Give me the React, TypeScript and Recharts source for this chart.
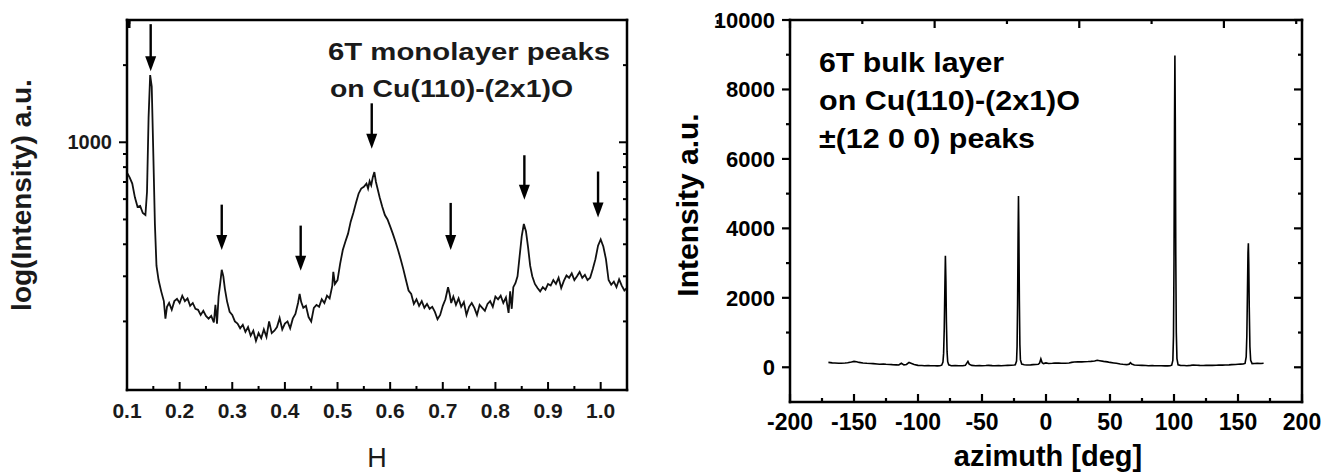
import React from 'react';
import { LineChart, Line, XAxis, YAxis, ReferenceLine } from 'recharts';

// left panel: 6T monolayer H scan (log intensity)
const hValues = [
  0.1, 0.105, 0.11, 0.115, 0.12, 0.125, 0.13, 0.135, 0.138, 0.141, 0.144, 0.147, 0.15, 0.153, 0.156, 0.16,
  0.165, 0.17, 0.173, 0.176, 0.18, 0.185, 0.19, 0.195, 0.2, 0.205, 0.21, 0.215, 0.22, 0.225, 0.23, 0.235,
  0.24, 0.245, 0.25, 0.255, 0.26, 0.265, 0.268, 0.271, 0.274, 0.277, 0.28, 0.283, 0.286, 0.29, 0.295, 0.3,
  0.305, 0.31, 0.315, 0.32, 0.325, 0.33, 0.335, 0.34, 0.345, 0.35, 0.355, 0.36, 0.365, 0.37, 0.375, 0.38,
  0.385, 0.39, 0.395, 0.4, 0.405, 0.41, 0.415, 0.42, 0.425, 0.428, 0.431, 0.435, 0.44, 0.445, 0.45, 0.455,
  0.46, 0.465, 0.47, 0.475, 0.48, 0.485, 0.49, 0.492, 0.495, 0.5, 0.505, 0.51, 0.515, 0.52, 0.525, 0.53,
  0.535, 0.54, 0.545, 0.55, 0.555, 0.558, 0.561, 0.564, 0.567, 0.57, 0.573, 0.576, 0.58, 0.585, 0.59, 0.595,
  0.6, 0.605, 0.61, 0.615, 0.62, 0.625, 0.63, 0.635, 0.64, 0.645, 0.65, 0.655, 0.66, 0.665, 0.67, 0.675,
  0.68, 0.685, 0.69, 0.695, 0.7, 0.705, 0.71, 0.713, 0.716, 0.72, 0.725, 0.73, 0.735, 0.74, 0.745, 0.75,
  0.755, 0.76, 0.765, 0.77, 0.775, 0.78, 0.785, 0.79, 0.795, 0.8, 0.805, 0.81, 0.815, 0.82, 0.825, 0.828,
  0.831, 0.834, 0.838, 0.842, 0.846, 0.85, 0.854, 0.858, 0.862, 0.866, 0.87, 0.875, 0.88, 0.885, 0.89, 0.895,
  0.9, 0.905, 0.91, 0.915, 0.92, 0.925, 0.93, 0.935, 0.94, 0.945, 0.95, 0.955, 0.96, 0.965, 0.97, 0.975,
  0.98, 0.985, 0.99, 0.995, 1.0, 1.005, 1.01, 1.015, 1.02, 1.025, 1.03, 1.035, 1.04, 1.045, 1.05,
];
const hCounts = [
  760, 730, 690, 610, 560, 565, 530, 520, 640, 1250, 1830, 1650, 900, 480, 330, 290,
  262, 240, 205, 228, 236, 222, 240, 245, 236, 252, 240, 246, 230, 236, 224, 222,
  212, 220, 210, 205, 210, 198, 232, 196, 250, 280, 318, 300, 268, 240, 218, 212,
  200, 196, 188, 194, 182, 190, 176, 184, 168, 180, 172, 186, 174, 200, 180, 184,
  190, 206, 186, 196, 200, 188, 205, 214, 236, 256, 238, 226, 230, 208, 200, 226,
  232, 228, 244, 236, 252, 246, 275, 312, 280, 290, 336, 380, 410, 440, 490, 530,
  580, 630, 660, 670, 690, 660, 705, 680, 730, 765, 700, 660, 610, 560, 520, 500,
  470, 440, 410, 380, 350, 320, 290, 264, 256, 234, 244, 230, 240, 226, 234, 224,
  228, 218, 204, 212, 230, 244, 272, 256, 236, 250, 232, 246, 228, 238, 212, 228,
  236, 226, 212, 232, 226, 220, 234, 240, 228, 250, 244, 252, 236, 248, 216, 262,
  224, 272, 282, 300, 360, 430, 480, 450, 390, 330, 300, 280, 270, 262, 272, 266,
  280, 276, 290, 280, 296, 270, 288, 302, 296, 308, 290, 300, 312, 296, 304, 290,
  296, 320, 350, 395, 418, 392, 350, 290, 278, 286, 272, 292, 276, 264, 270,
];
const hTicks = [0.1, 0.15, 0.2, 0.25, 0.3, 0.35, 0.4, 0.45, 0.5, 0.55, 0.6, 0.65, 0.7, 0.75, 0.8, 0.85, 0.9, 0.95, 1.0];
const logTicks = [200, 300, 400, 500, 600, 700, 800, 900, 1000, 2000];
const logLabels = [1000];

// peak markers (arrows) on the monolayer scan
const arrowH = [0.145, 0.28, 0.43, 0.565, 0.715, 0.855, 0.995];
const arrowTop = [2890, 571, 473, 1419, 580, 890, 769];
const arrowTip = [1893, 380, 315, 943, 380, 597, 509];

// right panel: 6T bulk layer azimuth scan
const azimuth = [
  -170, -167, -165, -162, -160, -157, -155, -152, -150, -148, -146, -143, -140, -137, -135, -132,
  -130, -127, -125, -122, -120, -117, -115, -113, -111, -109, -107, -105, -103, -100, -97, -95,
  -92, -90, -87, -85, -83, -81.5, -80.5, -80, -79.5, -79, -78.6, -78.2, -77.8, -77.3, -76.8, -76,
  -74, -71, -68, -65, -63, -61, -60, -58, -55, -52, -50, -47, -45, -42, -40, -37,
  -35, -32, -30, -27, -25, -24, -23, -22.6, -22.2, -21.8, -21.5, -21.2, -20.8, -20.4, -20, -19,
  -17, -15, -12, -10, -8, -6, -5, -4, -3, -2, 0, 2, 5, 7, 10, 12,
  15, 18, 20, 22, 25, 28, 30, 33, 35, 38, 40, 42, 45, 48, 50, 53,
  55, 58, 60, 63, 65, 66, 67, 69, 72, 75, 78, 80, 83, 85, 88, 90,
  93, 95, 97, 98.2, 99.1, 99.6, 100, 100.4, 100.7, 101, 101.4, 101.8, 102.3, 103.2, 105, 108,
  110, 113, 115, 118, 120, 123, 125, 128, 130, 133, 135, 138, 140, 143, 145, 148,
  150, 152, 154, 155.5, 156.4, 156.9, 157.4, 157.8, 158.1, 158.4, 158.8, 159.3, 159.9, 161, 163, 165,
  168, 170,
];
const azIntensity = [
  140, 128, 125, 118, 115, 122, 130, 150, 170, 160, 140, 125, 115, 110, 105, 95,
  85, 90, 85, 80, 75, 70, 65, 115, 70, 80, 140, 110, 80, 55, 50, 45,
  48, 45, 42, 40, 45, 60, 150, 400, 1100, 2300, 3210, 2500, 1300, 450, 160, 70,
  45, 48, 42, 45, 55, 170, 90, 55, 45, 48, 45, 50, 55, 48, 45, 50,
  45, 52, 55, 60, 65, 70, 180, 600, 1800, 3800, 4930, 3900, 1900, 650, 220, 90,
  75, 65, 70, 75, 80, 85, 120, 240, 130, 105, 125, 110, 115, 120, 125, 118,
  115, 125, 140, 150, 160, 155, 160, 165, 170, 180, 200, 190, 170, 155, 140, 125,
  115, 95, 85, 75, 90, 130, 95, 65, 60, 55, 50, 45, 48, 45, 42, 45,
  40, 40, 45, 60, 200, 900, 3000, 7000, 8980, 7200, 3200, 1000, 250, 70, 55, 50,
  45, 55, 65, 60, 55, 52, 55, 58, 55, 60, 65, 62, 65, 70, 75, 80,
  85, 90, 95, 110, 300, 900, 2200, 3300, 3570, 3000, 1700, 600, 200, 105, 110, 115,
  110, 115,
];
const azTicks = [-200, -175, -150, -125, -100, -75, -50, -25, 0, 25, 50, 75, 100, 125, 150, 175, 200];
const intensityTicks = [0, 1000, 2000, 3000, 4000, 5000, 6000, 7000, 8000, 9000, 10000];

const hData = hValues.map((h, i) => ({ h, c: hCounts[i] }));
const azData = azimuth.map((a, i) => ({ a, v: azIntensity[i] }));

const font = '"Liberation Sans", Arial, Helvetica, sans-serif';

type Side = 'bottom' | 'top' | 'left' | 'right';

// draws the tick mark itself (inside or outside) plus the optional label
const makeTick = (
  side: Side,
  isMajor: (v: number) => boolean,
  label: ((v: number) => string) | null,
  opts: { major: number; minor: number; size: number; color: string; offset: number; width: number }
) => (p: any) => {
  const v = p.payload.value;
  const big = isMajor(v);
  const len = big ? opts.major : opts.minor;
  const x = p.x;
  const y = p.y;
  let line = null;
  if (side === 'bottom') line = <line x1={x} x2={x} y1={y} y2={y - len} />;
  if (side === 'top') line = <line x1={x} x2={x} y1={y} y2={y + len} />;
  if (side === 'left') line = <line x1={x} x2={x - len} y1={y} y2={y} />;
  if (side === 'right') line = <line x1={x} x2={x - len} y1={y} y2={y} />;
  return (
    <g stroke="#000" strokeWidth={opts.width}>
      {line}
      {label && big && side === 'bottom' && (
        <text x={x} y={y + opts.offset} textAnchor="middle" stroke="none" fill={opts.color}
          fontFamily={font} fontWeight="bold" fontSize={opts.size}>{label(v)}</text>
      )}
      {label && big && side === 'left' && (
        <text x={x - opts.offset} y={y} dy="0.36em" textAnchor="end" stroke="none" fill={opts.color}
          fontFamily={font} fontWeight="bold" fontSize={opts.size}>{label(v)}</text>
      )}
    </g>
  );
};

const Arrow = (p: any) => {
  const x = p.x1;
  const top = Math.min(p.y1, p.y2);
  const tip = Math.max(p.y1, p.y2);
  const head = 15;
  return (
    <g>
      <line x1={x} x2={x} y1={top} y2={tip - head + 2} stroke="#000" strokeWidth={2.4} />
      <polygon points={`${x - 5.5},${tip - head} ${x + 5.5},${tip - head} ${x},${tip}`} fill="#000" />
    </g>
  );
};

const frame = { stroke: '#000', strokeWidth: 2.5, strokeLinecap: 'square' as const };

const isTenth = (v: number) => Math.round(v * 100) % 10 === 0;
const isLabeledLog = (v: number) => logLabels.includes(v);
const isFifty = (v: number) => v % 50 === 0;
const isTwoK = (v: number) => v % 2000 === 0;

const leftOpts = { major: 8, minor: 4, size: 21, color: '#1a1a1a', offset: 28, width: 2 };
const leftYOpts = { major: 8, minor: 4, size: 20, color: '#1a1a1a', offset: 15, width: 2 };
const rightOpts = { major: 8, minor: 4, size: 23, color: '#000', offset: 28, width: 2.2 };
const rightYOpts = { major: 8, minor: 4, size: 22, color: '#000', offset: 15, width: 2.2 };

const LeftPanel = () => (
  <LineChart width={660} height={473} data={hData} margin={{ top: 10, right: 23, bottom: 53, left: 67 }}>
    <XAxis xAxisId="b" dataKey="h" type="number" domain={[0.1, 1.05]} allowDataOverflow ticks={hTicks}
      interval={0} height={30} tickSize={0} tickMargin={0} tickLine={false} axisLine={frame}
      tick={makeTick('bottom', isTenth, (v) => v.toFixed(1), leftOpts)} />
    <XAxis xAxisId="t" orientation="top" type="number" domain={[0.1, 1.05]} allowDataOverflow ticks={hTicks}
      interval={0} height={10} tickSize={0} tickMargin={0} tickLine={false} axisLine={frame}
      tick={makeTick('top', isTenth, null, leftOpts)} />
    <YAxis yAxisId="l" scale="log" type="number" domain={[108, 3000]} allowDataOverflow ticks={logTicks}
      interval={0} width={60} tickSize={0} tickMargin={0} tickLine={false} axisLine={frame}
      tick={makeTick('left', isLabeledLog, (v) => String(v), leftYOpts)} />
    <YAxis yAxisId="r" orientation="right" scale="log" type="number" domain={[108, 3000]} allowDataOverflow
      ticks={logTicks} interval={0} width={10} tickSize={0} tickMargin={0} tickLine={false} axisLine={frame}
      tick={makeTick('right', isLabeledLog, null, leftYOpts)} />
    <Line xAxisId="b" yAxisId="l" dataKey="c" type="linear" stroke="#111" strokeWidth={1.8} dot={false}
      isAnimationActive={false} />
    {arrowH.map((h, i) => (
      <ReferenceLine key={h} xAxisId="b" yAxisId="l" ifOverflow="visible"
        segment={[{ x: h, y: arrowTop[i] }, { x: h, y: arrowTip[i] }]} shape={Arrow} />
    ))}
  </LineChart>
);

const RightPanel = () => (
  <LineChart width={661} height={473} data={azData} margin={{ top: 10, right: 9, bottom: 41, left: 70 }}>
    <XAxis xAxisId="b" dataKey="a" type="number" domain={[-200, 200]} allowDataOverflow ticks={azTicks}
      interval={0} height={30} tickSize={0} tickMargin={0} tickLine={false} axisLine={frame}
      tick={makeTick('bottom', isFifty, (v) => String(v), rightOpts)} />
    <XAxis xAxisId="t" orientation="top" type="number" domain={[-200, 200]} allowDataOverflow ticks={azTicks}
      interval={0} height={10} tickSize={0} tickMargin={0} tickLine={false} axisLine={frame}
      tick={makeTick('top', isFifty, null, rightOpts)} />
    <YAxis yAxisId="l" type="number" domain={[-1000, 10000]} allowDataOverflow ticks={intensityTicks}
      interval={0} width={60} tickSize={0} tickMargin={0} tickLine={false} axisLine={frame}
      tick={makeTick('left', isTwoK, (v) => String(v), rightYOpts)} />
    <YAxis yAxisId="r" orientation="right" type="number" domain={[-1000, 10000]} allowDataOverflow
      ticks={intensityTicks} interval={0} width={10} tickSize={0} tickMargin={0} tickLine={false}
      axisLine={frame} tick={makeTick('right', isTwoK, null, rightYOpts)} />
    <Line xAxisId="b" yAxisId="l" dataKey="v" type="linear" stroke="#000" strokeWidth={1.6} dot={false}
      isAnimationActive={false} />
  </LineChart>
);

export default function App() {
  return (
    <div style={{ position: 'absolute', left: 0, top: 0, width: 1321, height: 473, background: '#fff', overflow: 'hidden' }}>
      <div style={{ position: 'absolute', left: 0, top: 0 }}>
        <LeftPanel />
      </div>
      <div style={{ position: 'absolute', left: 660, top: 0 }}>
        <RightPanel />
      </div>
      <svg width={1321} height={473} style={{ position: 'absolute', left: 0, top: 0, pointerEvents: 'none' }}
        fontFamily={font}>
        <text transform="translate(31,195) rotate(-90)" textAnchor="middle" fontWeight="bold" fontSize={28}
          fill="#1a1a1a">log(Intensity) a.u.</text>
        <text x={377} y={467} textAnchor="middle" fontSize={27} fill="#1a1a1a">H</text>
        <text x={328} y={60} fontWeight="bold" fontSize={24} fill="#1a1a1a" textLength={282}
          lengthAdjust="spacingAndGlyphs">6T monolayer peaks</text>
        <text x={330} y={97} fontWeight="bold" fontSize={24} fill="#1a1a1a" textLength={243}
          lengthAdjust="spacingAndGlyphs">on Cu(110)-(2x1)O</text>

        <text transform="translate(698,205) rotate(-90)" textAnchor="middle" fontWeight="bold" fontSize={30}
          fill="#000">Intensity a.u.</text>
        <text x={1048} y={466} textAnchor="middle" fontWeight="bold" fontSize={29} fill="#000">azimuth [deg]</text>
        <text x={819} y={72} fontWeight="bold" fontSize={27} textLength={185}
          lengthAdjust="spacingAndGlyphs">6T bulk layer</text>
        <text x={819} y={110} fontWeight="bold" fontSize={27} textLength={261}
          lengthAdjust="spacingAndGlyphs">on Cu(110)-(2x1)O</text>
        <text x={819} y={148} fontWeight="bold" fontSize={27} textLength={216}
          lengthAdjust="spacingAndGlyphs">±(12 0 0) peaks</text>
      </svg>
    </div>
  );
}
